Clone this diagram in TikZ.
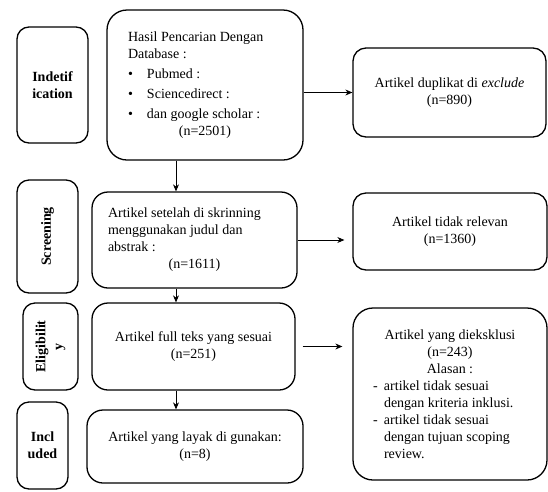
\documentclass[tikz,border=0pt]{standalone}
\usepackage{fontspec}
\setmainfont{Liberation Serif}
\usetikzlibrary{arrows.meta,positioning,calc}
\tikzset{
  stage/.style = { draw, line width=1.3pt, rounded corners=12pt, inner sep=0pt,
    align=center, font=\fontsize{14}{17}\selectfont\bfseries },
  flow/.style  = { draw, line width=1.3pt, rounded corners=16pt, inner sep=0pt,
    align=center, font=\fontsize{14}{17}\selectfont },
  excl/.style  = { flow, rounded corners=13pt },
  arr/.style   = { -{Stealth[length=7pt,width=6pt]}, line width=0.8pt }
}

\begin{document}
\begin{tikzpicture}[x=1pt,y=-1pt]
    \useasboundingbox (0,0) rectangle (548,491);
    % stage labels
    \node[stage, minimum width=71pt, minimum height=116pt] (ident) at (52.5,85) {Indetif\\ication};
    \node[stage, rotate=90, minimum width=113pt, minimum height=61pt] (screen) at (47.5,236.5) {Screening};
    \node[stage, rotate=90, minimum width=87pt, minimum height=55pt] (elig) at (50.5,346.5) {Eligibilit\\y};
    \node[stage, minimum width=51pt, minimum height=87pt] (incl) at (42.5,445.5) {Incl\\uded};
    % main flow
    \node[flow, rounded corners=20pt, minimum width=196pt, minimum height=150pt] (search) at (205,85) {%
      \begin{minipage}{154pt}
        Hasil Pencarian Dengan\\Database :\\[3pt]
        \makebox[19pt][l]{\textbullet}Pubmed :\\[3pt]
        \makebox[19pt][l]{\textbullet}Sciencedirect :\\[3pt]
        \makebox[19pt][l]{\textbullet}dan google scholar :\par
        {\centering (n=2501)\par}
      \end{minipage}};
    \node[flow, minimum width=205pt, minimum height=96pt] (screened) at (194.5,240) {%
      \begin{minipage}{173pt}
        Artikel setelah di skrinning\\menggunakan judul dan\\abstrak :\par
        {\centering (n=1611)\par}
      \end{minipage}};
    \node[flow, minimum width=203pt, minimum height=87pt] (fulltext) at (193.5,346.5) {Artikel full teks yang sesuai\\(n=251)};
    \node[flow, minimum width=216pt, minimum height=73pt] (included) at (195,446.5) {Artikel yang layak di gunakan:\\(n=8)};
    % excluded
    \node[excl, minimum width=193pt, minimum height=89pt] (dupl) at (449.5,92.5) {Artikel duplikat di \textit{exclude}\\(n=890)};
    \node[excl, minimum width=194pt, minimum height=77pt] (irrel) at (450,231.5) {Artikel tidak relevan\\(n=1360)};
    \node[excl, rounded corners=20pt, minimum width=194pt, minimum height=172pt] (rejected) at (450,394) {%
      \begin{minipage}{154pt}
        \centering Artikel yang dieksklusi\\(n=243)\\Alasan :\par
        \raggedright
        \makebox[11pt][l]{-}artikel tidak sesuai\\
        \hspace*{11pt}dengan kriteria inklusi.\\
        \makebox[11pt][l]{-}artikel tidak sesuai\\
        \hspace*{11pt}dengan tujuan scoping\\
        \hspace*{11pt}review.
      \end{minipage}};
    % arrows
    \coordinate (spine) at (176,0);
    \draw[arr] (search.south -| spine) -- (screened.north -| spine);
    \draw[arr] (screened.south -| spine) -- (fulltext.north -| spine);
    \draw[arr] (fulltext.south -| spine) -- (included.north -| spine);
    \draw[arr] (dupl.west -| search.east) -- (dupl.west);
    \draw[arr, shorten >=8pt] (screened.east) -- (screened.east -| irrel.west);
    \draw[arr, shorten <=7pt, shorten >=10pt] (fulltext.east) -- (fulltext.east -| rejected.west);
\end{tikzpicture}
\end{document}
